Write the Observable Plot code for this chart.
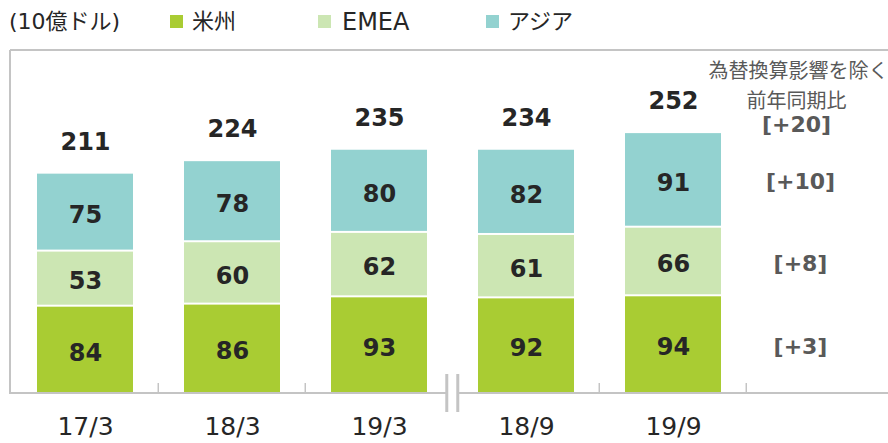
<!DOCTYPE html>
<html><head><meta charset="utf-8">
<script src="https://cdn.jsdelivr.net/npm/d3@7"></script>
<script src="https://cdn.jsdelivr.net/npm/@observablehq/plot@0.6"></script>
<style>
body{margin:0;background:#fff;font-family:"DejaVu Sans","Noto Sans CJK JP",sans-serif;overflow:hidden}
#legend{position:relative;height:40px;width:888px;color:#262626;font-size:22px;}
#legend span{position:absolute;top:8px;line-height:28px;white-space:nowrap}
#legend i{position:absolute;width:13px;height:13px;top:15px}
#chart svg{display:block}
</style></head>
<body><div id="legend"></div><div id="chart"></div>
<script>
// ---- data ----
const cats = ["17/3", "18/3", "19/3", "18/9", "19/9"];
const americas = [84, 86, 93, 92, 94];
const emea = [53, 60, 62, 61, 66];
const asia = [75, 78, 80, 82, 91];
const totals = [211, 224, 235, 234, 252];
const regionNames = ["米州", "EMEA", "アジア"];
const regionColors = ["#a9cc33", "#cce6b3", "#93d2d0"];
const unitLabel = "(10億ドル)";
const yoyHeader = ["為替換算影響を除く", "前年同期比"];
const yoyLabels = ["[+3]", "[+8]", "[+10]", "[+20]"];
const breakAfter = "19/3";

// ---- style constants ----
const PAD = 0.35, Y_MAX = 330, AXIS = "#c4c4c4", TEXT = "#262626", GRAY = "#595959";
const FONT = '"DejaVu Sans","Noto Sans CJK JP",sans-serif';

// legend
const leg = document.getElementById("legend");
leg.innerHTML = `<span style="left:9px">${unitLabel}</span>` +
  [[170,192],[318,342],[486,508]].map((p,i)=>
    `<i style="left:${p[0]}px;background:${regionColors[i]}"></i><span style="left:${p[1]}px;${i===1?'font-size:24px':''}">${regionNames[i]}</span>`).join("");

// build stacked segments
const seriesVals = [americas, emea, asia];
const segments = [];
const tops = [];
cats.forEach((c, i) => {
  let base = 0;
  seriesVals.forEach((vals, s) => {
    segments.push({cat: c, region: regionNames[s], value: vals[i], y1: base, y2: base + vals[i]});
    base += vals[i];
  });
  tops.push({cat: c, top: base, total: totals[i]});
});
const last = cats[cats.length - 1];
const lastSegs = segments.filter(d => d.cat === last);
const yoySeg = yoyLabels.slice(0, 3).map((t, i) => ({text: t, y: (lastSegs[i].y1 + lastSegs[i].y2) / 2}));
const yoyTop = [{text: yoyLabels[3], y: tops[tops.length - 1].top}];

function decor(index, scales, values, dims) {
  const x = scales.x, y = scales.y;
  const step = x(cats[1]) - x(cats[0]);
  const bw = step * (1 - PAD);
  const edge = c => x(c) + (step + bw) / 2;
  const y0 = y(0), yTop = y(Y_MAX);
  const left = dims.marginLeft, right = dims.width - dims.marginRight;
  const g = d3.create("svg:g").attr("fill", "none").attr("stroke", AXIS);
  g.append("line").attr("x1", left).attr("x2", left).attr("y1", yTop).attr("y2", y0).attr("stroke-width", 2);
  g.append("line").attr("x1", left).attr("x2", right).attr("y1", yTop).attr("y2", yTop).attr("stroke-width", 2);
  const bx = edge(breakAfter);
  g.append("line").attr("x1", left - 1).attr("x2", bx - 5).attr("y1", y0).attr("y2", y0).attr("stroke-width", 2);
  g.append("line").attr("x1", bx + 5).attr("x2", right).attr("y1", y0).attr("y2", y0).attr("stroke-width", 2);
  [bx - 5.5, bx + 5.5].forEach(px =>
    g.append("line").attr("x1", px).attr("x2", px).attr("y1", y0 - 19).attr("y2", y0 + 19).attr("stroke-width", 3));
  cats.filter(c => c !== breakAfter).forEach(c => {
    const px = edge(c);
    g.append("line").attr("x1", px).attr("x2", px).attr("y1", y0 - 10).attr("y2", y0).attr("stroke-width", 1.5);
  });
  return g.node();
}

const chart = Plot.plot({
  width: 888, height: 403,
  marginLeft: 10, marginRight: 0, marginTop: 10, marginBottom: 50,
  x: {domain: cats, range: [10.5, 746.5], paddingInner: PAD, paddingOuter: PAD / 2, axis: null},
  y: {domain: [0, Y_MAX], axis: null},
  color: {domain: regionNames, range: regionColors},
  style: {fontFamily: FONT, background: "white", overflow: "visible"},
  marks: [
    Plot.rectY(segments, {x: "cat", y1: "y1", y2: "y2", fill: "region", insetTop: 1, insetBottom: 1}),
    decor,
    Plot.text(segments, {x: "cat", y: d => (d.y1 + d.y2) / 2, text: d => String(d.value), dy: 3,
      fontSize: 24, fontWeight: "bold", fill: TEXT}),
    Plot.text(tops, {x: "cat", y: "top", text: d => String(d.total), dy: -31,
      fontSize: 24, fontWeight: "bold", fill: TEXT}),
    Plot.text(cats, {x: d => d, frameAnchor: "bottom", dy: 41, fontSize: 25, fill: TEXT}),
    Plot.text(yoySeg, {x: () => last, y: "y", dy: 2, dx: 127, text: "text",
      fontSize: 22, fontWeight: "bold", fill: GRAY}),
    Plot.text(yoyTop, {x: () => last, y: "y", dy: -8, dx: 123, text: "text",
      fontSize: 22, fontWeight: "bold", fill: GRAY}),
    Plot.text([yoyHeader[0]], {x: () => last, frameAnchor: "top", dy: 13, dx: 125, text: d => d, fontSize: 20, fill: GRAY}),
    Plot.text([yoyHeader[1]], {x: () => last, frameAnchor: "top", dy: 43, dx: 123, text: d => d, fontSize: 20, fill: GRAY})
  ]
});
document.getElementById("chart").appendChild(chart);
</script>
</body></html>
